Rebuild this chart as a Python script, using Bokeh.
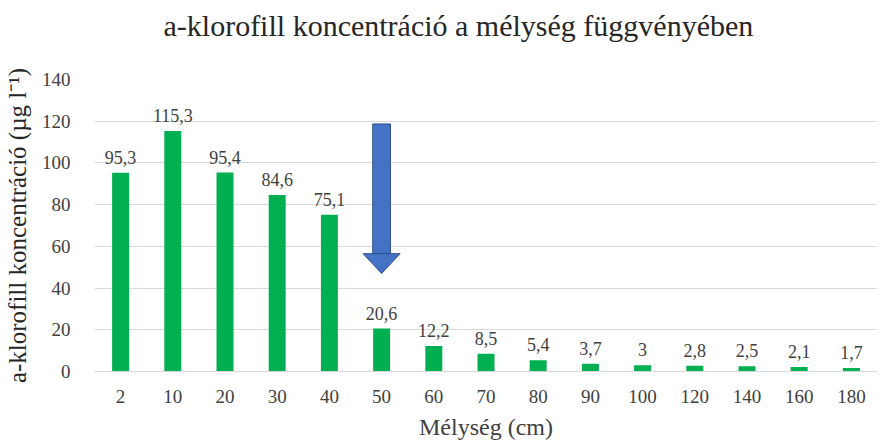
from bokeh.plotting import figure
from bokeh.models import ColumnDataSource, FixedTicker, Range1d, LabelSet, Title
from bokeh.embed import file_html
from bokeh.resources import INLINE

depths = ["2", "10", "20", "30", "40", "50", "60", "70", "80", "90", "100", "120", "140", "160", "180"]
values = [95.3, 115.3, 95.4, 84.6, 75.1, 20.6, 12.2, 8.5, 5.4, 3.7, 3.0, 2.8, 2.5, 2.1, 1.7]
value_labels = ["95,3", "115,3", "95,4", "84,6", "75,1", "20,6", "12,2", "8,5", "5,4", "3,7", "3", "2,8", "2,5", "2,1", "1,7"]
y_ticks = [0, 20, 40, 60, 80, 100, 120, 140]
title_text = "a-klorofill koncentráció a mélység függvényében"

# arrow marker (points at depth "50")
arrow_depth = "50"
arrow_top = 118.7
arrow_head_base = 56.5
arrow_tip = 47.0

SERIF = "Liberation Serif"

idx = list(range(len(depths)))
src = ColumnDataSource(dict(x=idx, top=values, lab=value_labels))
y_max = y_ticks[-1]

p = figure(width=880, height=442, output_backend="svg", toolbar_location=None,
           x_range=Range1d(-0.5, len(depths) - 0.5), y_range=Range1d(0, y_max),
           min_border_left=93, min_border_right=3, min_border_top=79, min_border_bottom=71)
p.outline_line_color = None
p.background_fill_color = "white"
p.border_fill_color = "white"

p.vbar(x="x", top="top", width=0.325, bottom=0, source=src, fill_color="#00B050", line_color=None)

labels = LabelSet(x="x", y="top", text="lab", source=src, text_align="center",
                  text_baseline="bottom", y_offset=9, text_font=SERIF,
                  text_font_size="18px", text_color="#404040")
p.add_layout(labels)

# arrow
ax = depths.index(arrow_depth)
shaft_w = 0.34
head_w = 0.71
p.vbar(x=[ax], bottom=[arrow_head_base], top=[arrow_top], width=shaft_w,
       fill_color="#4472C4", line_color="#2F528F", line_width=1)
p.patch([ax - head_w / 2, ax + head_w / 2, ax], [arrow_head_base, arrow_head_base, arrow_tip],
        fill_color="#4472C4", line_color="#2F528F", line_width=1)

# axes
p.xaxis.ticker = FixedTicker(ticks=idx)
p.xaxis.major_label_overrides = {i: d for i, d in enumerate(depths)}
p.xaxis.axis_line_color = "#D9D9D9"
p.xaxis.major_tick_line_color = None
p.xaxis.minor_tick_line_color = None
p.xaxis.major_label_text_font = SERIF
p.xaxis.major_label_text_font_size = "19px"
p.xaxis.major_label_text_color = "#404040"
p.xaxis.major_label_standoff = 12
p.xaxis.axis_label = "Mélység (cm)"
p.xaxis.axis_label_text_font = SERIF
p.xaxis.axis_label_text_font_style = "normal"
p.xaxis.axis_label_text_font_size = "24px"
p.xaxis.axis_label_text_color = "#404040"
p.xaxis.axis_label_standoff = 8

p.yaxis.ticker = FixedTicker(ticks=y_ticks)
p.yaxis.axis_line_color = None
p.yaxis.major_tick_line_color = None
p.yaxis.minor_tick_line_color = None
p.yaxis.major_label_text_font = SERIF
p.yaxis.major_label_text_font_size = "19px"
p.yaxis.major_label_text_color = "#404040"
p.yaxis.major_label_standoff = 18
p.yaxis.axis_label = "a-klorofill koncentráció (µg l⁻¹)"
p.yaxis.axis_label_text_font = SERIF
p.yaxis.axis_label_text_font_style = "normal"
p.yaxis.axis_label_text_font_size = "25px"
p.yaxis.axis_label_text_color = "#262626"
p.yaxis.axis_label_standoff = 8

p.xgrid.grid_line_color = None
p.ygrid.grid_line_color = "#D9D9D9"

# spacer between frame and title (keeps the title high above the plot area)
spacer = Title(text=" ", text_font_size="1px", standoff=35)
p.add_layout(spacer, "above")
t = Title(text=title_text, align="left", offset=69, standoff=0,
          text_font=SERIF, text_font_size="30px", text_font_style="normal",
          text_color="#262626")
p.add_layout(t, "above")

open("out.html", "w").write(file_html(p, INLINE))
